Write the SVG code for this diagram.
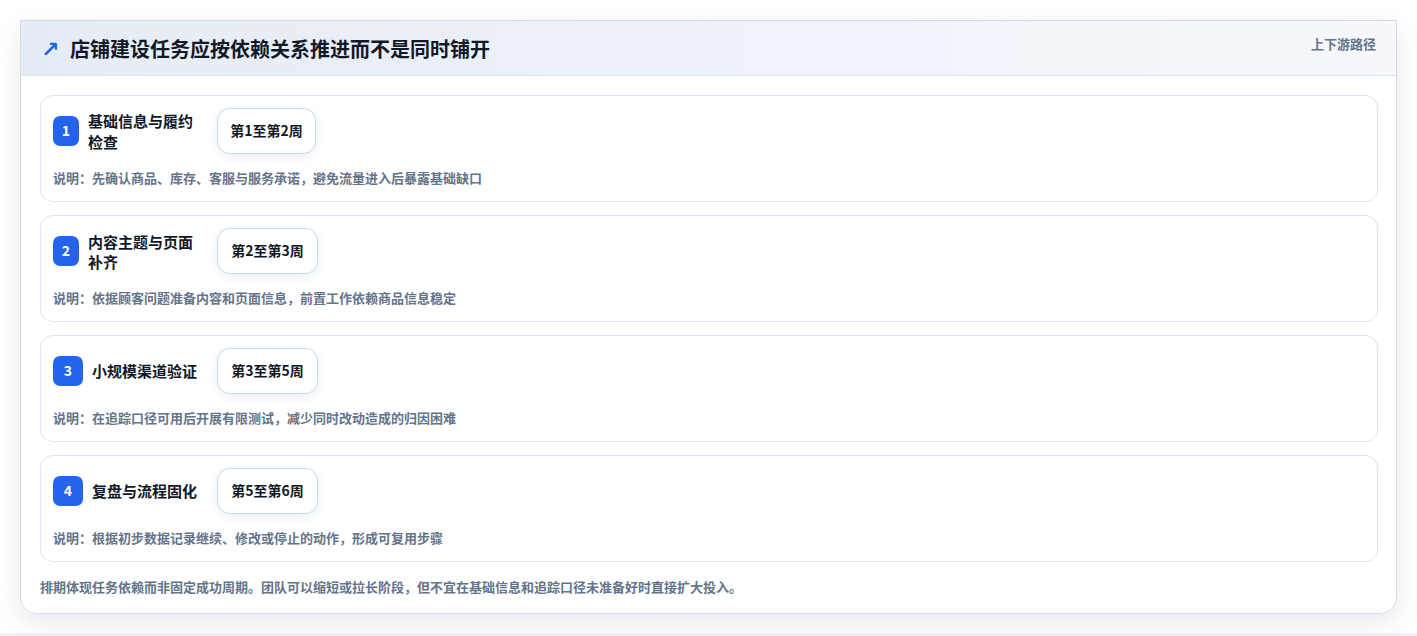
<svg xmlns="http://www.w3.org/2000/svg" width="1417" height="636" viewBox="0 0 1417 636">
  <defs>
    <linearGradient id="hdr" x1="0" y1="0" x2="1" y2="0">
      <stop offset="0" stop-color="#e6ecf5"/>
      <stop offset="1" stop-color="#f6f8fc"/>
    </linearGradient>
    <filter id="cardShadow" x="-5%" y="-5%" width="110%" height="115%">
      <feDropShadow dx="0" dy="8" stdDeviation="12" flood-color="#0f172a" flood-opacity="0.09"/>
    </filter>
    <filter id="pillShadow" x="-20%" y="-20%" width="140%" height="160%">
      <feDropShadow dx="0" dy="3" stdDeviation="4" flood-color="#1e3a8a" flood-opacity="0.08"/>
    </filter>
  </defs>
  <style>
    text { font-family: "Noto Sans CJK SC", "Noto Sans", "Liberation Sans", sans-serif; }
    .row { fill: #ffffff; stroke: #dde6f2; stroke-width: 1; }
    .badge { fill: #2563eb; }
    .badgeText { fill: #ffffff; font-size: 14px; font-weight: 700; text-anchor: middle; }
    .title { fill: #111827; font-size: 15px; font-weight: 700; }
    .pill { fill: #ffffff; stroke: #c5d6ee; stroke-width: 1; }
    .pillText { fill: #111827; font-size: 14px; font-weight: 700; text-anchor: middle; }
    .desc { fill: #64748b; font-size: 13px; font-weight: 600; }
  </style>

  <rect x="0" y="0" width="1417" height="636" fill="#ffffff"/>
  <rect x="0" y="633" width="1417" height="3" fill="#f1f3f6"/>

  <g id="card">
    <rect x="20.5" y="20.5" width="1376" height="593" rx="16" fill="#ffffff" stroke="#d3dae6" filter="url(#cardShadow)"/>
    <rect x="20.5" y="20.5" width="1376" height="55" fill="url(#hdr)"/>
    <line x1="20.5" y1="20.5" x2="1396.5" y2="20.5" stroke="#d3dae6"/>
    <line x1="20.5" y1="20.5" x2="20.5" y2="75" stroke="#d3dae6"/>
    <line x1="1396.5" y1="20.5" x2="1396.5" y2="75" stroke="#d3dae6"/>
    <line x1="21" y1="75.5" x2="1396" y2="75.5" stroke="#dbe5f2"/>
    <text x="41" y="57" font-size="22" fill="#2563eb" style="font-family:'DejaVu Sans',sans-serif;font-weight:700">↗</text>
    <text x="70" y="56.5" font-size="20" font-weight="700" fill="#111827">店铺建设任务应按依赖关系推进而不是同时铺开</text>
    <text x="1376" y="48.5" font-size="13" font-weight="600" fill="#64748b" text-anchor="end">上下游路径</text>
  </g>

  <g id="step1">
    <rect class="row" x="40.5" y="95.5" width="1337" height="106" rx="12"/>
    <rect class="badge" x="53" y="116" width="26" height="30" rx="7"/>
    <text class="badgeText" x="66" y="136">1</text>
    <text class="title" x="88" y="127">基础信息与履约</text>
    <text class="title" x="88" y="148">检查</text>
    <rect class="pill" x="217.5" y="108.5" width="98" height="45" rx="12" filter="url(#pillShadow)"/>
    <text class="pillText" x="266.5" y="135.5">第1至第2周</text>
    <text class="desc" x="53" y="183">说明：先确认商品、库存、客服与服务承诺，避免流量进入后暴露基础缺口</text>
  </g>

  <g id="step2">
    <rect class="row" x="40.5" y="215.5" width="1337" height="106" rx="12"/>
    <rect class="badge" x="53" y="236" width="26" height="30" rx="7"/>
    <text class="badgeText" x="66" y="256">2</text>
    <text class="title" x="88" y="247.5">内容主题与页面</text>
    <text class="title" x="88" y="268">补齐</text>
    <rect class="pill" x="217.5" y="228.5" width="100" height="45" rx="12" filter="url(#pillShadow)"/>
    <text class="pillText" x="267.5" y="255.5">第2至第3周</text>
    <text class="desc" x="53" y="303">说明：依据顾客问题准备内容和页面信息，前置工作依赖商品信息稳定</text>
  </g>

  <g id="step3">
    <rect class="row" x="40.5" y="335.5" width="1337" height="106" rx="12"/>
    <rect class="badge" x="53" y="356" width="30" height="30" rx="7"/>
    <text class="badgeText" x="68" y="376">3</text>
    <text class="title" x="92" y="376.5">小规模渠道验证</text>
    <rect class="pill" x="217.5" y="348.5" width="100" height="45" rx="12" filter="url(#pillShadow)"/>
    <text class="pillText" x="267.5" y="375.5">第3至第5周</text>
    <text class="desc" x="53" y="423">说明：在追踪口径可用后开展有限测试，减少同时改动造成的归因困难</text>
  </g>

  <g id="step4">
    <rect class="row" x="40.5" y="455.5" width="1337" height="106" rx="12"/>
    <rect class="badge" x="53" y="476" width="30" height="30" rx="7"/>
    <text class="badgeText" x="68" y="496">4</text>
    <text class="title" x="92" y="496.5">复盘与流程固化</text>
    <rect class="pill" x="217.5" y="468.5" width="100" height="45" rx="12" filter="url(#pillShadow)"/>
    <text class="pillText" x="267.5" y="495.5">第5至第6周</text>
    <text class="desc" x="53" y="543">说明：根据初步数据记录继续、修改或停止的动作，形成可复用步骤</text>
  </g>

  <g id="connectors"></g>

  <text x="40" y="592" font-size="13" font-weight="600" fill="#64748b">排期体现任务依赖而非固定成功周期。团队可以缩短或拉长阶段，但不宜在基础信息和追踪口径未准备好时直接扩大投入。</text>
</svg>
